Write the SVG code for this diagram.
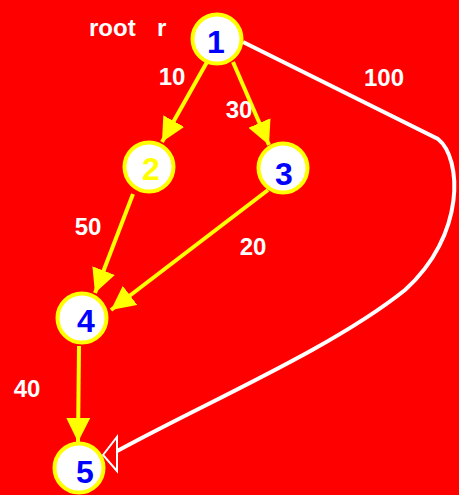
<svg xmlns="http://www.w3.org/2000/svg" width="459" height="495" viewBox="0 0 459 495">
<style>
.node circle{fill:#fff;stroke:#ffff00;stroke-width:4}
.num{font-family:"Liberation Sans",Arial,sans-serif;font-weight:bold;font-size:32px;fill:#0000ff;text-anchor:middle}
.lbl{font-family:"Liberation Sans",Arial,sans-serif;font-weight:bold;font-size:24px;fill:#fff;text-anchor:middle}
.edge{stroke:#ffff00;stroke-width:4;fill:none;marker-end:url(#ah)}
</style>
<defs>
<marker id="ah" markerUnits="userSpaceOnUse" markerWidth="24" markerHeight="24" refX="24" refY="12" orient="auto" viewBox="0 0 24 24">
<path d="M0,0 L24,12 L0,24 z" fill="#ffff00"/>
</marker>
</defs>
<rect width="459" height="495" fill="#ff0000"/>
<g id="connectors">
<line class="edge" x1="207" y1="62" x2="162" y2="142"/>
<line class="edge" x1="233" y1="62" x2="269" y2="145"/>
<line class="edge" x1="133" y1="194" x2="95" y2="293"/>
<line class="edge" x1="268" y1="190" x2="111" y2="310"/>
<line class="edge" x1="79" y1="346" x2="78" y2="442"/>
<path d="M243,42 L438,139 C462,158 466,235 405,290 C330,350 200,405 110,455" fill="none" stroke="#fff" stroke-width="4"/>
<polygon points="103,455 117,437 117,471" fill="#ff0000" stroke="#fff" stroke-width="2"/>
</g>
<g id="labels">
<text class="lbl" x="89" y="36" style="text-anchor:start">root</text>
<text class="lbl" x="157" y="36" style="text-anchor:start">r</text>
<text class="lbl" x="172" y="85">10</text>
<text class="lbl" x="239" y="118">30</text>
<text class="lbl" x="384" y="86">100</text>
<text class="lbl" x="88" y="235">50</text>
<text class="lbl" x="253" y="255">20</text>
<text class="lbl" x="27" y="397">40</text>
</g>
<g id="node1" class="node"><circle cx="217" cy="39" r="24.5"/><text class="num" x="216" y="53">1</text></g>
<g id="node2" class="node"><circle cx="149" cy="167" r="24.5"/><text class="num" x="151" y="180" style="fill:#ffff00">2</text></g>
<g id="node3" class="node"><circle cx="283" cy="168" r="24.5"/><text class="num" x="284" y="185">3</text></g>
<g id="node4" class="node"><circle cx="82" cy="318" r="24.5"/><text class="num" x="86" y="332">4</text></g>
<g id="node5" class="node"><circle cx="79" cy="468" r="24.5"/><text class="num" x="85" y="483">5</text></g>
</svg>
